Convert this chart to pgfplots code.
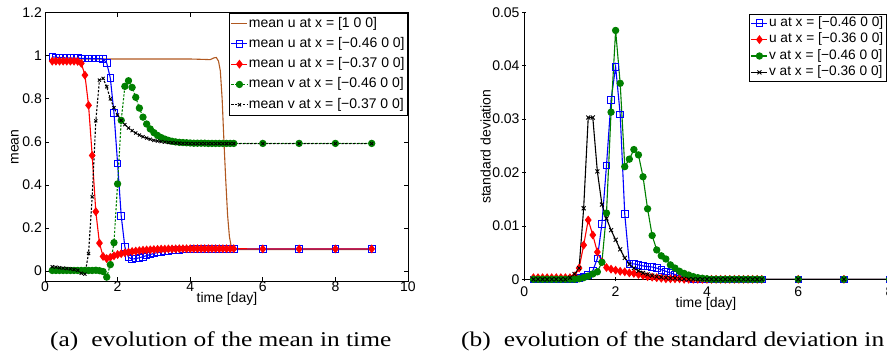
\documentclass[border=0pt]{standalone}
\usepackage{fontspec}
\setmainfont{Liberation Sans}
\newfontfamily\capfont[FakeStretch=1.21]{Liberation Serif}
\usepackage{pgfplots}
\usepackage{pgfplotstable}
\pgfplotsset{compat=1.18}
\definecolor{mbrown}{RGB}{176,88,32}
\definecolor{mgreen}{RGB}{0,128,0}

\pgfplotstableread{
t blue red green black
0.2 0.995 0.975 0.003 0.020
0.3 0.993 0.975 0.003 0.018
0.4 0.992 0.975 0.003 0.016
0.5 0.991 0.975 0.003 0.014
0.6 0.990 0.975 0.003 0.012
0.7 0.990 0.975 0.003 0.010
0.8 0.989 0.975 0.003 0.007
0.9 0.989 0.974 0.003 0.004
1.0 0.988 0.965 0.003 -0.010
1.1 0.988 0.910 0.003 -0.014
1.2 0.988 0.770 0.003 0.082
1.3 0.987 0.537 0.003 0.345
1.4 0.987 0.276 0.004 0.698
1.5 0.987 0.130 0.002 0.887
1.6 0.985 0.068 -0.002 0.895
1.7 0.967 0.058 -0.028 0.856
1.8 0.896 0.064 0.030 0.800
1.9 0.735 0.071 0.132 0.759
2.0 0.500 0.077 0.405 0.725
2.1 0.256 0.081 0.700 0.700
2.2 0.112 0.085 0.858 0.680
2.3 0.064 0.088 0.884 0.665
2.4 0.056 0.091 0.853 0.652
2.5 0.058 0.093 0.807 0.641
2.6 0.062 0.095 0.757 0.632
2.7 0.067 0.097 0.715 0.624
2.8 0.072 0.098 0.683 0.618
2.9 0.077 0.099 0.660 0.612
3.0 0.082 0.100 0.643 0.607
3.1 0.086 0.101 0.630 0.604
3.2 0.089 0.102 0.620 0.601
3.3 0.092 0.102 0.613 0.599
3.4 0.094 0.103 0.607 0.597
3.5 0.096 0.103 0.603 0.596
3.6 0.098 0.103 0.600 0.595
3.7 0.099 0.104 0.598 0.594
3.8 0.100 0.104 0.597 0.593
3.9 0.101 0.104 0.596 0.593
4.0 0.101 0.104 0.595 0.592
4.1 0.102 0.104 0.594 0.592
4.2 0.102 0.104 0.594 0.592
4.3 0.102 0.104 0.594 0.592
4.4 0.102 0.104 0.594 0.592
4.5 0.103 0.104 0.593 0.592
4.6 0.103 0.104 0.593 0.592
4.7 0.103 0.104 0.593 0.592
4.8 0.103 0.104 0.593 0.592
4.9 0.103 0.104 0.593 0.592
5.0 0.103 0.104 0.593 0.592
5.1 0.103 0.104 0.593 0.592
5.2 0.103 0.104 0.593 0.592
6 0.103 0.103 0.593 0.592
7 0.103 0.103 0.593 0.592
8 0.103 0.103 0.593 0.592
9 0.103 0.103 0.593 0.592
}\meantable

\pgfplotstableread{
t u
0.2 0.985
1.0 0.985
2.0 0.985
3.0 0.985
4.0 0.985
4.4 0.983
4.55 0.982
4.65 0.990
4.72 0.992
4.78 0.975
4.83 0.930
4.88 0.800
4.93 0.600
4.98 0.420
5.03 0.260
5.08 0.160
5.13 0.115
5.2 0.100
6 0.100
7 0.100
8 0.100
9 0.100
}\browntable

\pgfplotstableread{
t blue red green black
0.2 0 0.0003 0 0
0.3 0 0.0003 0 0
0.4 0 0.0003 0 0
0.5 0 0.0003 0 0
0.6 0 0.0003 0 0
0.7 0 0.0003 0 0
0.8 0 0.0003 0 0
0.9 0 0.0003 0 0
1.0 0 0.0003 0 0.0003
1.1 0.0001 0.0006 0 0.0010
1.2 0.0002 0.0021 0.0001 0.0021
1.3 0.0005 0.0064 0.0003 0.0133
1.4 0.0008 0.0111 0.0006 0.0303
1.5 0.0016 0.0083 0.0010 0.0303
1.6 0.0039 0.0051 0.0014 0.0202
1.7 0.0104 0.0033 0.0032 0.0140
1.8 0.0213 0.0022 0.0124 0.0114
1.9 0.0336 0.0019 0.0313 0.0092
2.0 0.0398 0.0017 0.0466 0.0074
2.1 0.0309 0.0015 0.0367 0.0056
2.2 0.0122 0.0014 0.0211 0.0040
2.3 0.0029 0.0012 0.0225 0.0028
2.4 0.0029 0.0011 0.0243 0.0021
2.5 0.0027 0.0009 0.0233 0.0016
2.6 0.0025 0.0007 0.0192 0.0012
2.7 0.0024 0.0005 0.0132 0.0009
2.8 0.0023 0.0004 0.0082 0.0007
2.9 0.0021 0.0003 0.0055 0.0005
3.0 0.0018 0.0002 0.0044 0.0004
3.1 0.0015 0.0001 0.0038 0.0003
3.2 0.0012 0.0001 0.0027 0.0002
3.3 0.0009 0.0001 0.0021 0.0002
3.4 0.0006 0.0001 0.0015 0.0001
3.5 0.0004 0 0.0011 0.0001
3.6 0.0002 0 0.0008 0
3.7 0.0001 0 0.0005 0
3.8 0 0 0.0003 0
3.9 0 0 0.0002 0
4.0 0 0 0.0001 0
4.1 0 0 0 0
4.2 0 0 0 0
4.3 0 0 0 0
4.4 0 0 0 0
4.5 0 0 0 0
4.6 0 0 0 0
4.7 0 0 0 0
4.8 0 0 0 0
4.9 0 0 0 0
5.0 0 0 0 0
5.1 0 0 0 0
5.2 0 0 0 0
6 0 0 0 0
7 0 0 0 0
8 0 0 0 0
9 0 0 0 0
}\sdtable

\pgfplotsset{
  every axis/.append style={
    scale only axis,
    /pgf/number format/assume math mode=true,
    tick label style={font=\fontsize{14}{16}\selectfont},
    tick align=inside,
    major tick length=4pt,
    axis line style={line width=0.7pt},
    every tick/.style={line width=0.7pt, black},
    legend cell align=left,
    legend image code/.code={\draw[mark repeat=2,mark phase=2,#1] plot coordinates {(0pt,0pt) (8pt,0pt) (16pt,0pt)};},
  },
  dl/.style={line width=1.1pt},
}

\begin{document}
\begin{tikzpicture}
\useasboundingbox (0,0) rectangle (887pt,360pt);
\clip (0,0) rectangle (887pt,360pt);

% ---------- left axis ----------
\begin{axis}[
  at={(45pt,79pt)}, anchor=south west,
  width=363pt, height=268.3pt,
  xmin=0, xmax=10, ymin=-0.046, ymax=1.2,
  xtick={0,2,4,6,8,10},
  ytick={0,0.2,0.4,0.6,0.8,1,1.2},
  tick pos=both,
  xticklabel style={inner sep=0pt, yshift=-1pt},
  yticklabel style={inner sep=0pt, xshift=-3pt},
  legend style={at={(1,1)}, anchor=north east, draw=black, line width=0.7pt,
    inner xsep=2pt, inner ysep=3.5pt, row sep=6.3pt,
    font=\fontsize{14}{16}\selectfont,
    nodes={inner xsep=1pt, inner ysep=0pt, text height=10.5pt, text depth=3.5pt}},
]
\addplot[dl, mbrown] table[x=t, y=u] {\browntable};
\addlegendentry{mean u at x = [1 0 0]}
\addplot[dl, blue, mark=square, mark size=3.3pt, mark options={line width=0.9pt}] table[x=t, y=blue] {\meantable};
\addlegendentry{mean u at x = [−0.46 0 0]}
\addplot[dl, red, mark=diamond*, mark size=3.6pt] table[x=t, y=red] {\meantable};
\addlegendentry{mean u at x = [−0.37 0 0]}
\addplot[dl, mgreen, dash pattern=on 2.2pt off 1.6pt, mark=*, mark size=3.1pt, mark options={solid}] table[x=t, y=green] {\meantable};
\addlegendentry{mean v at x = [−0.46 0 0]}
\addplot[dl, black, dash pattern=on 2.2pt off 1.6pt, mark=x, mark size=2.2pt, mark options={solid, line width=0.9pt}] table[x=t, y=black] {\meantable};
\addlegendentry{mean v at x = [−0.37 0 0]}
\end{axis}

% ---------- right axis ----------
\begin{axis}[
  at={(524.3pt,80.7pt)}, anchor=south west,
  width=365.3pt, height=267pt,
  xmin=0, xmax=8, ymin=0, ymax=0.05,
  axis lines=left, axis line style={-, line width=0.7pt},
  xtick={0,2,4,6,8},
  ytick={0,0.01,0.02,0.03,0.04,0.05},
  scaled y ticks=false,
  yticklabel style={/pgf/number format/fixed, /pgf/number format/precision=2, inner sep=0pt, xshift=-2.6pt},
  xticklabel style={inner sep=0pt, yshift=-5.5pt},
  legend style={at={(1,1)}, anchor=north east, xshift=-3pt, yshift=-1.7pt,
    draw=black, line width=0.7pt,
    inner xsep=2pt, inner ysep=2pt, row sep=2.7pt,
    font=\fontsize{13.7}{15}\selectfont,
    nodes={inner xsep=1pt, inner ysep=0pt, text height=10.2pt, text depth=3.5pt}},
]
\addplot[dl, blue, mark=square, mark size=3.3pt, mark options={line width=0.9pt}] table[x=t, y=blue] {\sdtable};
\addlegendentry{u at x = [−0.46 0 0]}
\addplot[dl, red, mark=diamond*, mark size=3.6pt] table[x=t, y=red] {\sdtable};
\addlegendentry{u at x = [−0.36 0 0]}
\addplot[dl, mgreen, mark=*, mark size=3.1pt] table[x=t, y=green] {\sdtable};
\addlegendentry{v at x = [−0.46 0 0]}
\addplot[dl, black, mark=x, mark size=2.8pt, mark options={line width=0.9pt}] table[x=t, y=black] {\sdtable};
\addlegendentry{v at x = [−0.36 0 0]}
\end{axis}

% ---------- axis labels ----------
\node[rotate=90, font=\fontsize{14}{16}\selectfont] at (15pt,213pt) {mean};
\node[font=\fontsize{14}{16}\selectfont] at (227pt,61pt) {time [day]};
\node[rotate=90, font=\fontsize{14}{16}\selectfont] at (485.7pt,213.3pt) {standard deviation};
\node[font=\fontsize{14}{16}\selectfont] at (706pt,56pt) {time [day]};

% ---------- captions ----------
\node[anchor=base west, inner sep=0pt, font=\capfont\fontsize{21}{24}\selectfont] at (50pt,14pt) {(a)\hspace{13pt}evolution of the mean in time};
\node[anchor=base west, inner sep=0pt, font=\capfont\fontsize{21}{24}\selectfont] at (461pt,14pt) {(b)\hspace{13pt}evolution of the standard deviation in time};
\end{tikzpicture}
\end{document}
